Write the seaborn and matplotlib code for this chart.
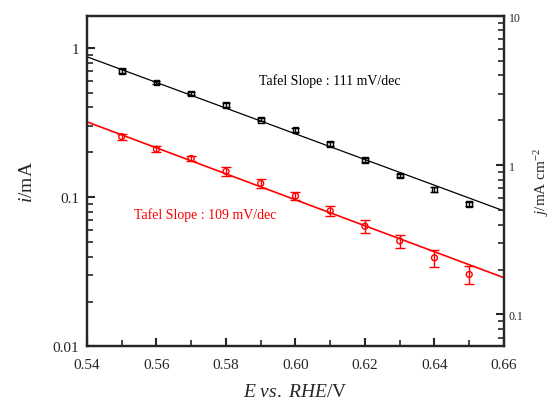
import numpy as np
import pandas as pd
import seaborn as sns
import matplotlib.pyplot as plt
from matplotlib import ticker

# 전위 (V vs. RHE)
potential = [0.55, 0.56, 0.57, 0.58, 0.59, 0.60, 0.61, 0.62, 0.63, 0.64, 0.65]

# 검은색 데이터 (mA)
black_i = [0.704, 0.589, 0.497, 0.414, 0.330, 0.283, 0.227, 0.177, 0.140, 0.113, 0.0898]
black_err = [0.020, 0.014, 0.012, 0.012, 0.008, 0.010, 0.007, 0.005, 0.004, 0.005, 0.003]

# 빨간색 데이터 (mA)
red_i = [0.255, 0.210, 0.182, 0.149, 0.124, 0.102, 0.081, 0.064, 0.051, 0.0393, 0.0304]
red_err = [0.012, 0.010, 0.008, 0.010, 0.008, 0.006, 0.006, 0.006, 0.005, 0.005, 0.004]

# 피팅 직선 양 끝점
fit_E = [0.54, 0.66]
fit_black = [0.874, 0.081]
fit_red = [0.320, 0.0289]

electrode_area = 0.164  # cm2

sns.set_style("ticks")
plt.rcParams["font.family"] = ["Liberation Serif", "DejaVu Serif"]
plt.rcParams["mathtext.fontset"] = "custom"
plt.rcParams["mathtext.rm"] = "Liberation Serif"
plt.rcParams["mathtext.it"] = "Liberation Serif:italic"

fig = plt.figure(figsize=(5.52, 4.02), dpi=100)
ax = fig.add_axes([0.1576, 0.1356, 0.7554, 0.8221])

pts = pd.DataFrame({"E": potential * 2,
                    "i": black_i + red_i,
                    "set": ["black"] * len(potential) + ["red"] * len(potential)})
fits = pd.DataFrame({"E": fit_E * 2,
                     "i": fit_black + fit_red,
                     "set": ["black", "black", "red", "red"]})

sns.lineplot(data=fits[fits.set == "black"], x="E", y="i", color="black",
             linewidth=0.9, ax=ax)
sns.lineplot(data=fits[fits.set == "red"], x="E", y="i", color="red",
             linewidth=1.2, ax=ax)

ax.errorbar(potential, black_i, yerr=black_err, fmt="none", ecolor="black",
            elinewidth=1.0, capsize=3, capthick=1.0)
ax.errorbar(potential, red_i, yerr=red_err, fmt="none", ecolor="red",
            elinewidth=1.0, capsize=3.5, capthick=1.0)

sns.scatterplot(data=pts[pts.set == "black"], x="E", y="i", marker="s", s=16,
                facecolor="none", edgecolor="black", linewidth=1.0, ax=ax)
sns.scatterplot(data=pts[pts.set == "red"], x="E", y="i", marker="o", s=18,
                facecolor="none", edgecolor="red", linewidth=1.0, ax=ax)

ax.set_yscale("log")
ax.set_xlim(0.54, 0.66)
ax.set_ylim(0.01, 10 * electrode_area)
ax.set_xticks([0.54, 0.56, 0.58, 0.60, 0.62, 0.64, 0.66])
ax.set_xticks([0.55, 0.57, 0.59, 0.61, 0.63, 0.65], minor=True)
ax.xaxis.set_major_formatter(ticker.FormatStrFormatter("%.2f"))
ax.yaxis.set_major_locator(ticker.LogLocator(base=10, numticks=10))
ax.yaxis.set_minor_locator(ticker.LogLocator(base=10, subs=np.arange(2, 10), numticks=20))
ax.yaxis.set_minor_formatter(ticker.NullFormatter())
ax.yaxis.set_major_formatter(ticker.FuncFormatter(lambda v, p: "%g" % v))

ax.tick_params(axis="both", which="both", direction="in", top=False, right=False)
ax.tick_params(axis="both", which="major", length=6, width=1.5, labelsize=11)
ax.tick_params(axis="both", which="minor", length=4, width=1.2)
ax.tick_params(axis="x", which="major", pad=8)
ax.tick_params(axis="y", which="major", pad=5.5)
for sp in ax.spines.values():
    sp.set_linewidth(1.6)

ax.set_xlabel(r"$\mathit{E\ vs.\ RHE}$/V", fontsize=14, labelpad=9)
ax.set_ylabel(r"$\mathit{i}$/mA", fontsize=14, labelpad=12)

ax2 = ax.twinx()
ax2.set_yscale("log")
ax2.set_ylim(0.01 / electrode_area, 10)
ax2.yaxis.set_major_locator(ticker.LogLocator(base=10, numticks=10))
ax2.yaxis.set_minor_locator(ticker.LogLocator(base=10, subs=np.arange(2, 10), numticks=20))
ax2.yaxis.set_minor_formatter(ticker.NullFormatter())
ax2.yaxis.set_major_formatter(ticker.FuncFormatter(lambda v, p: "%g" % v))
ax2.tick_params(axis="y", which="both", direction="in")
ax2.tick_params(axis="y", which="major", length=6, width=1.5, labelsize=8.5)
ax2.tick_params(axis="y", which="minor", length=4, width=1.2)
ax2.set_ylabel(r"$\mathit{j}$/mA cm$^{-2}$", fontsize=11, labelpad=6)
for sp in ax2.spines.values():
    sp.set_linewidth(1.6)

ax.text(0.5895, 0.61, "Tafel Slope : 111 mV/dec", color="black", fontsize=10,
        ha="left", va="center")
ax.text(0.5535, 0.077, "Tafel Slope : 109 mV/dec", color="red", fontsize=10,
        ha="left", va="center")

fig.savefig("out.png", dpi=100)
